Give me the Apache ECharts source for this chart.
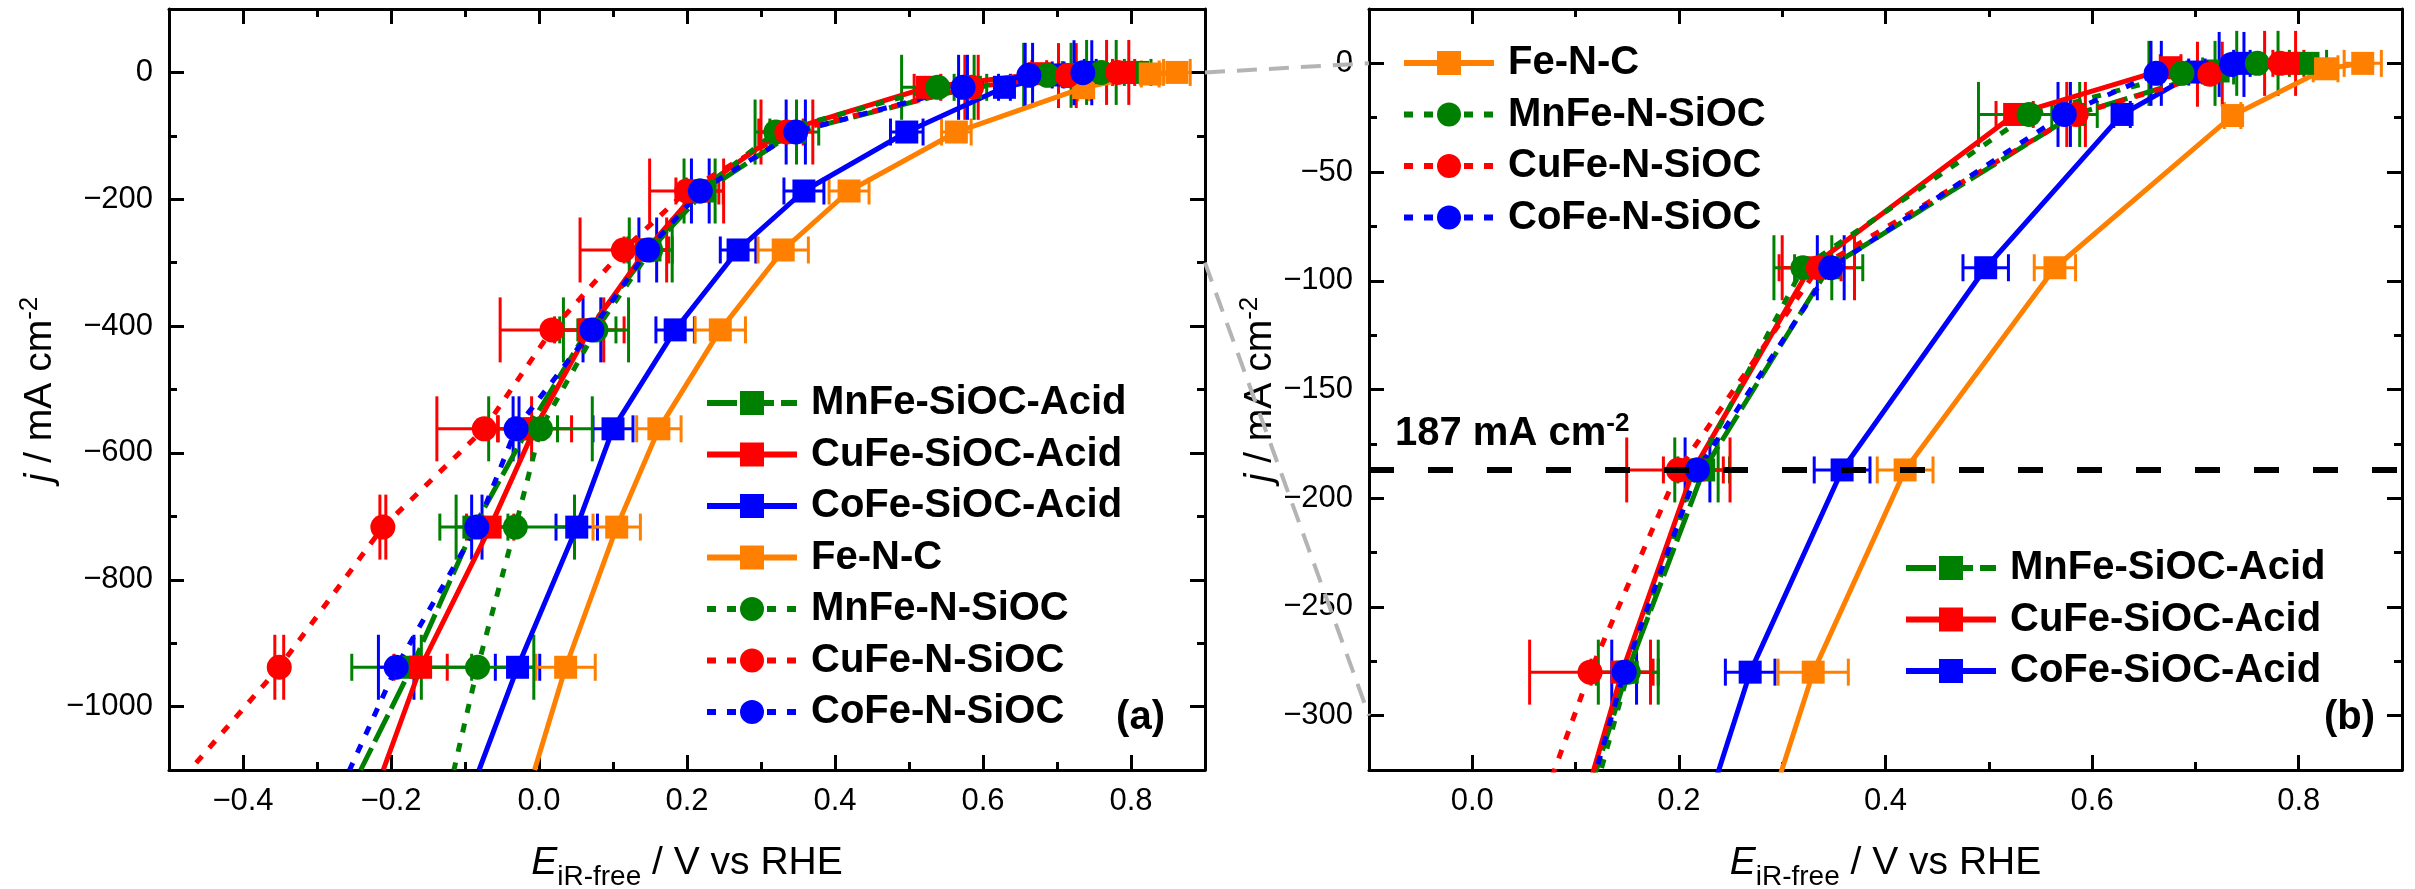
<!DOCTYPE html>
<html><head><meta charset="utf-8">
<script src="https://cdn.jsdelivr.net/npm/echarts@6/dist/echarts.min.js"></script>
<style>html,body{margin:0;padding:0;background:#fff}#c{width:2415px;height:889px}</style>
</head><body><div id="c"></div>
<script>
// ---------------- data ----------------
const seriesNames = ['MnFe-SiOC-Acid','CuFe-SiOC-Acid','CoFe-SiOC-Acid','Fe-N-C','MnFe-N-SiOC','CuFe-N-SiOC','CoFe-N-SiOC'];

const mnFeAcid_E   = [0.809, 0.722, 0.583, 0.345, 0.224, 0.150, 0.066, -0.015, -0.088, -0.172];
const mnFeAcid_j   = [0, -3.5, -23.5, -94, -187, -280, -406, -562, -717, -938];
const mnFeAcid_err = [0.018, 0.015, 0.022, 0.033, 0.025, 0.030, 0.038, 0.040, 0.046, 0.081];
const mnFeAcid_exit = [-0.241, -1100];

const cuFeAcid_E   = [0.790, 0.676, 0.525, 0.327, 0.214, 0.145, 0.068, -0.006, -0.066, -0.160];
const cuFeAcid_j   = [0, -2, -23.5, -94, -187, -280, -406, -562, -717, -938];
const cuFeAcid_err = [0.015, 0.010, 0.018, 0.030, 0.029, 0.030, 0.047, 0.050, 0.032, 0.036];
const cuFeAcid_exit = [-0.2105, -1100];

const coFeAcid_E   = [0.745, 0.7015, 0.629, 0.497, 0.358, 0.269, 0.184, 0.100, 0.051, -0.029];
const coFeAcid_j   = [0, -4, -23.5, -94, -187, -280, -406, -562, -717, -938];
const coFeAcid_err = [0.008, 0.008, 0.008, 0.022, 0.027, 0.024, 0.026, 0.027, 0.028, 0.030];
const coFeAcid_exit = [-0.081, -1100];

const feNC_E   = [0.862, 0.826, 0.736, 0.564, 0.419, 0.330, 0.245, 0.162, 0.105, 0.036];
const feNC_j   = [0, -2.5, -24, -94, -187, -280, -406, -562, -717, -938];
const feNC_err = [0.018, 0.012, 0.008, 0.020, 0.027, 0.034, 0.034, 0.030, 0.032, 0.040];
const feNC_exit = [-0.006, -1100];

const mnFeN_E   = [0.760, 0.687, 0.539, 0.320, 0.217, 0.151, 0.077, 0.002, -0.032, -0.083];
const mnFeN_j   = [0, -4.6, -23.5, -94, -187, -280, -406, -562, -717, -938];
const mnFeN_err = [0.020, 0.032, 0.049, 0.028, 0.021, 0.029, 0.044, 0.070, 0.080, 0.076];
const mnFeN_exit = [-0.115, -1100];

const cuFeN_E   = [0.782, 0.714, 0.5845, 0.335, 0.1995, 0.114, 0.0175, -0.074, -0.211, -0.351];
const cuFeN_j   = [0, -5, -23.5, -94, -187, -280, -406, -562, -717, -938];
const cuFeN_err = [0.015, 0.012, 0.009, 0.035, 0.050, 0.0585, 0.070, 0.064, 0.004, 0.006];
const cuFeN_exit = [-0.4717, -1100];

const coFeN_E   = [0.735, 0.662, 0.573, 0.347, 0.218, 0.147, 0.0715, -0.031, -0.084, -0.193];
const coFeN_j   = [-0.5, -4.6, -23.5, -94, -187, -280, -406, -562, -717, -938];
const coFeN_err = [0.012, 0.005, 0.006, 0.013, 0.012, 0.012, 0.012, 0.004, 0.007, 0.024];
const coFeN_exit = [-0.256, -1100];

// axes
const xRangeA = [-0.5, 0.9], yRangeA = [-1100, 100];
const xMajorA = [-0.4, -0.2, 0, 0.2, 0.4, 0.6, 0.8], xMinorA = [-0.3, -0.1, 0.1, 0.3, 0.5, 0.7];
const yMajorA = [-1000, -800, -600, -400, -200, 0], yMinorA = [-900, -700, -500, -300, -100];
const xRangeB = [-0.1, 0.9], yRangeB = [-325, 25];
const xMajorB = [0, 0.2, 0.4, 0.6, 0.8], xMinorB = [0.1, 0.3, 0.5, 0.7];
const yMajorB = [-300, -250, -200, -150, -100, -50, 0], yMinorB = [-275, -225, -175, -125, -75, -25];

const refCurrent = -187;          // dashed reference line in (b)
const zoomLinks = [0, -300];      // current levels joined between (a) and (b)

// ---------------- styling ----------------
const FONT = '"Liberation Sans", Arial, Helvetica, sans-serif';
const GREEN = '#008000', RED = '#ff0000', BLUE = '#0000ff', ORANGE = '#ff8000';
const DOT = [9, 11], LONGDASH = [30, 7];

const SER = [
  {name: seriesNames[0], color: GREEN,  symbol: 'rect',   dash: LONGDASH, E: mnFeAcid_E, j: mnFeAcid_j, err: mnFeAcid_err, exit: mnFeAcid_exit},
  {name: seriesNames[1], color: RED,    symbol: 'rect',   dash: 'solid',  E: cuFeAcid_E, j: cuFeAcid_j, err: cuFeAcid_err, exit: cuFeAcid_exit},
  {name: seriesNames[2], color: BLUE,   symbol: 'rect',   dash: 'solid',  E: coFeAcid_E, j: coFeAcid_j, err: coFeAcid_err, exit: coFeAcid_exit},
  {name: seriesNames[3], color: ORANGE, symbol: 'rect',   dash: 'solid',  E: feNC_E,     j: feNC_j,     err: feNC_err,     exit: feNC_exit},
  {name: seriesNames[4], color: GREEN,  symbol: 'circle', dash: DOT,      E: mnFeN_E,    j: mnFeN_j,    err: mnFeN_err,    exit: mnFeN_exit},
  {name: seriesNames[5], color: RED,    symbol: 'circle', dash: DOT,      E: cuFeN_E,    j: cuFeN_j,    err: cuFeN_err,    exit: cuFeN_exit},
  {name: seriesNames[6], color: BLUE,   symbol: 'circle', dash: DOT,      E: coFeN_E,    j: coFeN_j,    err: coFeN_err,    exit: coFeN_exit}
];

const fmtX = v => (v < -1e-9 ? '\u2212' : '') + Math.abs(v).toFixed(1);
const fmtY = v => (v < 0 ? '\u2212' : '') + Math.abs(Math.round(v));

const xNameRich = {
  e: {fontSize: 39, fontStyle: 'italic', fontFamily: FONT, color: '#000', lineHeight: 56, verticalAlign: 'middle'},
  s: {fontSize: 28, fontFamily: FONT, color: '#000', lineHeight: 30, verticalAlign: 'bottom'},
  n: {fontSize: 39, fontFamily: FONT, color: '#000', lineHeight: 56, verticalAlign: 'middle'}
};
const yNameRich = {
  i: {fontSize: 39, fontStyle: 'italic', fontFamily: FONT, color: '#000', lineHeight: 46, verticalAlign: 'middle'},
  n: {fontSize: 39, fontFamily: FONT, color: '#000', lineHeight: 46, verticalAlign: 'middle'},
  p: {fontSize: 26, fontFamily: FONT, color: '#000', lineHeight: 26, verticalAlign: 'top'}
};
const X_NAME = '{e|E}{s|iR-free}{n| / V vs RHE}';
const Y_NAME = '{i|j}{n| / mA cm}{p|-2}';

function axisSet(dim, grid, range, major, minor, fmt, nameGap) {
  const base = {gridIndex: grid, type: 'value', min: range[0], max: range[1], splitLine: {show: false}, silent: true, axisPointer: {show: false}};
  const mainPos = dim === 'x' ? 'bottom' : 'left';
  const oppPos = dim === 'x' ? 'top' : 'right';
  const line = {show: true, onZero: false, lineStyle: {color: '#000', width: 3}};
  const noLine = {show: false, onZero: false};
  const tMaj = {show: true, inside: true, length: 15, lineStyle: {color: '#000', width: 3}, customValues: major};
  const tMin = {show: true, inside: true, length: 8, lineStyle: {color: '#000', width: 3}, customValues: minor};
  return [
    Object.assign({}, base, {position: mainPos, axisLine: line, axisTick: tMaj,
      axisLabel: {show: true, customValues: major, formatter: fmt, fontSize: 31, color: '#000', fontFamily: FONT, margin: 16},
      name: dim === 'x' ? X_NAME : Y_NAME, nameLocation: 'middle', nameGap: nameGap,
      nameTextStyle: {fontFamily: FONT, color: '#000', rich: dim === 'x' ? xNameRich : yNameRich}}),
    Object.assign({}, base, {position: mainPos, axisLine: noLine, axisTick: tMin, axisLabel: {show: false}}),
    Object.assign({}, base, {position: oppPos, axisLine: line, axisTick: tMaj, axisLabel: {show: false}}),
    Object.assign({}, base, {position: oppPos, axisLine: noLine, axisTick: tMin, axisLabel: {show: false}})
  ];
}

const xAxes = [].concat(axisSet('x', 0, xRangeA, xMajorA, xMinorA, fmtX, 65), axisSet('x', 1, xRangeB, xMajorB, xMinorB, fmtX, 65));
const yAxes = [].concat(axisSet('y', 0, yRangeA, yMajorA, yMinorA, fmtY, 106), axisSet('y', 1, yRangeB, yMajorB, yMinorB, fmtY, 86));

function errRender(capH, color) {
  return function (params, api) {
    const x = api.value(0), y = api.value(1), e = api.value(2);
    const cs = params.coordSys;
    const c = api.coord([x, y]);
    if (c[1] < cs.y - 1 || c[1] > cs.y + cs.height + 1) return null;
    const l = api.coord([x - e, y]), r = api.coord([x + e, y]);
    const h = capH / 2;
    const st = {stroke: color, lineWidth: 3};
    return {type: 'group', children: [
      {type: 'line', shape: {x1: l[0], y1: l[1], x2: r[0], y2: r[1]}, style: st},
      {type: 'line', shape: {x1: l[0], y1: l[1] - h, x2: l[0], y2: l[1] + h}, style: st},
      {type: 'line', shape: {x1: r[0], y1: r[1] - h, x2: r[0], y2: r[1] + h}, style: st}
    ]};
  };
}

function buildSeries(panel) {
  const out = [];
  SER.forEach((s, k) => {
    const ax = panel * 4;
    const isCircle = s.symbol === 'circle';
    out.push({
      type: 'custom', name: s.name + ' err ' + panel, xAxisIndex: ax, yAxisIndex: ax, silent: true,
      renderItem: errRender(isCircle ? 65 : 27, s.color),
      data: s.E.map((e, i) => [e, s.j[i], s.err[i]]), animation: false
    });
    const line = {
      type: 'line', name: s.name, xAxisIndex: ax, yAxisIndex: ax, silent: true,
      data: s.E.map((e, i) => [e, s.j[i]]).concat([{value: s.exit, symbol: 'none'}]),
      symbol: s.symbol, symbolSize: isCircle ? 25 : 23, showSymbol: true,
      lineStyle: {color: s.color, width: 5, type: s.dash},
      itemStyle: {color: s.color},
      emphasis: {disabled: true}, animation: false, clip: true
    };
    if (panel === 1 && k === SER.length - 1) {
      line.markLine = {silent: true, symbol: ['none', 'none'], animation: false, label: {show: false},
        emphasis: {disabled: true},
        lineStyle: {color: '#000', width: 6, type: [25, 34]}, data: [{yAxis: refCurrent}]};
    }
    out.push(line);
  });
  return out;
}

const legendText = {fontSize: 40, fontWeight: 'bold', fontFamily: FONT, color: '#000', lineHeight: 40, padding: [0, 0, 0, 9]};
function legend(names, left, top) {
  return {data: names, left: left, top: top, orient: 'vertical', itemWidth: 90, itemHeight: 30, itemGap: 11.5,
    padding: 0, selectedMode: false, textStyle: legendText,
    lineStyle: {width: 6, type: 'inherit', color: 'inherit'}};
}

const chart = echarts.init(document.getElementById('c'), null, {renderer: 'canvas', width: 2415, height: 889});
chart.setOption({
  backgroundColor: '#fff',
  animation: false,
  grid: [
    {left: 169, top: 9, width: 1036, height: 761, outerBoundsMode: 'none'},
    {left: 1369, top: 9, width: 1033, height: 761, outerBoundsMode: 'none'}
  ],
  xAxis: xAxes,
  yAxis: yAxes,
  legend: [
    legend(seriesNames, 704, 383),
    legend([seriesNames[3], seriesNames[4], seriesNames[5], seriesNames[6]], 1401, 43),
    legend([seriesNames[0], seriesNames[1], seriesNames[2]], 1903, 548)
  ],
  series: buildSeries(0).concat(buildSeries(1))
});

// annotations placed through the axes' own scales
const A = {xAxisIndex: 0, yAxisIndex: 0}, B = {xAxisIndex: 4, yAxisIndex: 4};
const gfx = [];
zoomLinks.forEach(v => {
  const p = chart.convertToPixel(A, [xRangeA[1], v]);
  const q = chart.convertToPixel(B, [xRangeB[0], v]);
  gfx.push({type: 'line', z: 100, silent: true, shape: {x1: p[0], y1: p[1], x2: q[0], y2: q[1]},
    style: {stroke: '#b4b4b4', lineWidth: 4, lineDash: [20, 12]}});
});
const refPx = chart.convertToPixel(B, [xRangeB[0], refCurrent]);
gfx.push({type: 'text', z: 100, silent: true, x: refPx[0] + 26, y: refPx[1] - 59,
  style: {text: '{a|' + Math.abs(refCurrent) + ' mA cm}{s|-2}', align: 'left', verticalAlign: 'top', fill: '#000',
    rich: {a: {fontSize: 40, fontWeight: 'bold', fontFamily: FONT, lineHeight: 46, verticalAlign: 'middle', fill: '#000'},
           s: {fontSize: 26, fontWeight: 'bold', fontFamily: FONT, lineHeight: 26, verticalAlign: 'top', fill: '#000'}}}});
const cornerA = chart.convertToPixel(A, [xRangeA[1], yRangeA[0]]);
const cornerB = chart.convertToPixel(B, [xRangeB[1], yRangeB[0]]);
[[cornerA, '(a)', 40], [cornerB, '(b)', 27]].forEach(([c, t, dx]) => {
  gfx.push({type: 'text', z: 100, silent: true, x: c[0] - dx, y: c[1] - 52,
    style: {text: t, align: 'right', verticalAlign: 'middle', fill: '#000', fontSize: 40, fontWeight: 'bold', fontFamily: FONT}});
});
chart.setOption({graphic: gfx});
</script>
</body></html>
